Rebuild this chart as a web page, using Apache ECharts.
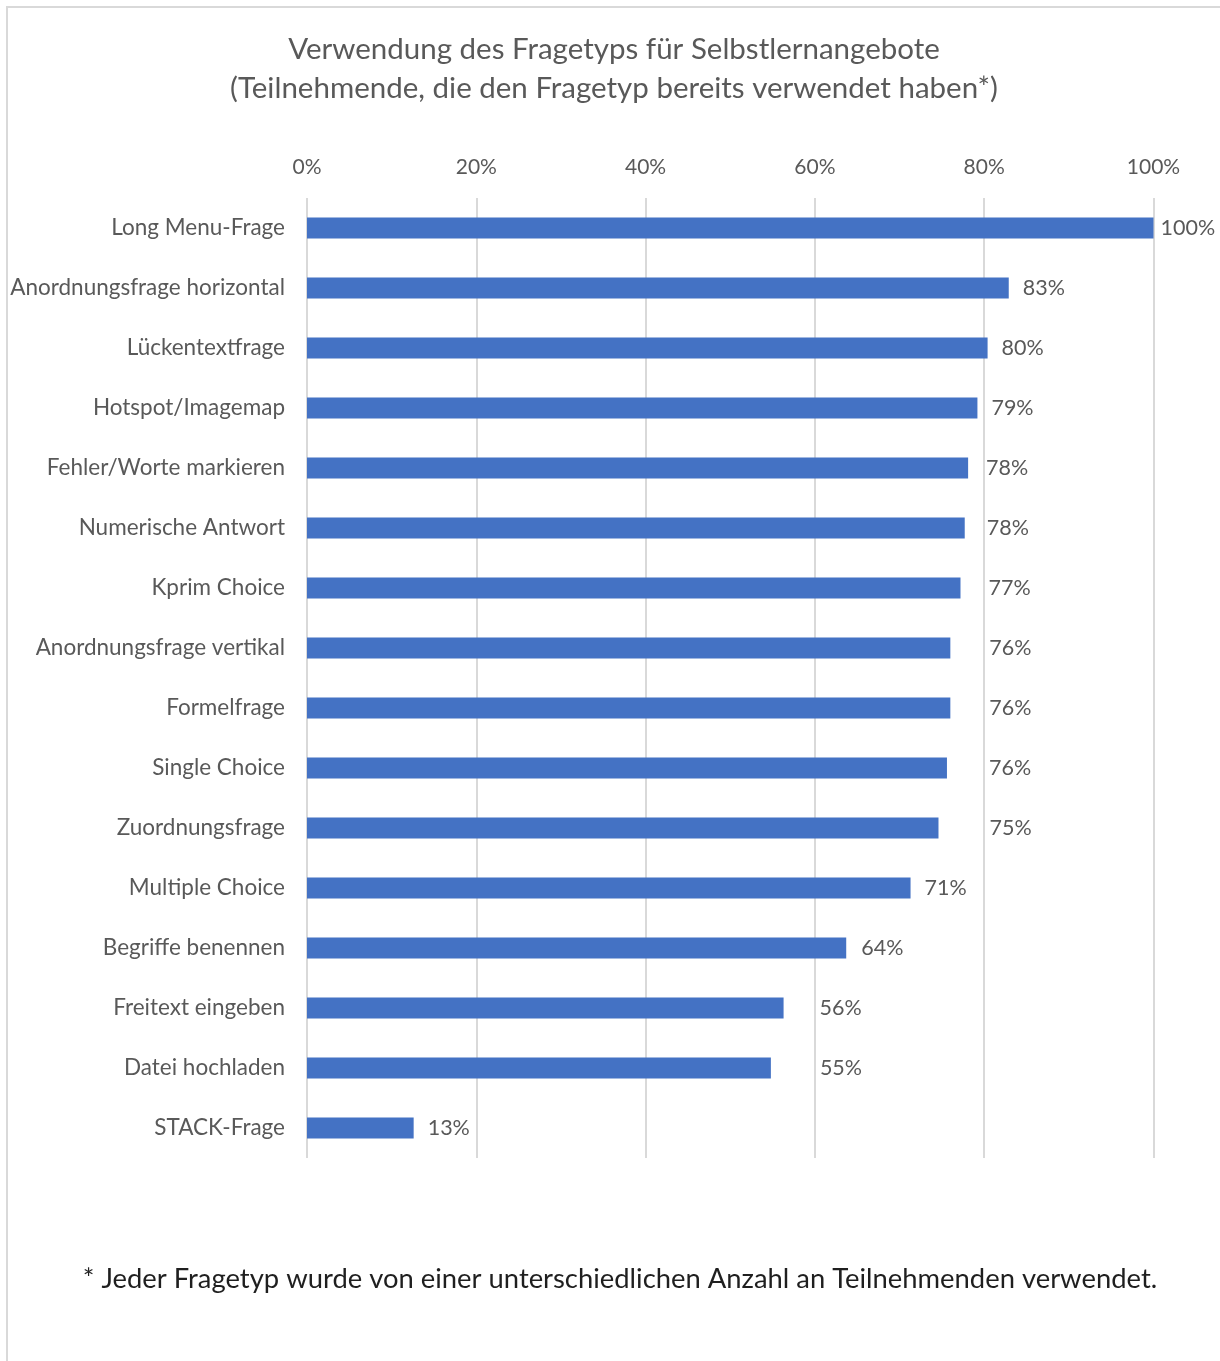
<!DOCTYPE html>
<html>
<head>
<meta charset="utf-8">
<script src="https://cdn.jsdelivr.net/npm/echarts@6/dist/echarts.min.js"></script>
<style>
  html, body { margin: 0; padding: 0; background: #ffffff; }
  #chart { width: 1220px; height: 1361px; }
</style>
</head>
<body>
<div id="chart"></div>
<script>
// Question types, top to bottom
const categories = [
  'Long Menu-Frage',
  'Anordnungsfrage horizontal',
  'Lückentextfrage',
  'Hotspot/Imagemap',
  'Fehler/Worte markieren',
  'Numerische Antwort',
  'Kprim Choice',
  'Anordnungsfrage vertikal',
  'Formelfrage',
  'Single Choice',
  'Zuordnungsfrage',
  'Multiple Choice',
  'Begriffe benennen',
  'Freitext eingeben',
  'Datei hochladen',
  'STACK-Frage'
];

// Share of participants who have used the question type (%)
const usageShare = [100, 82.9, 80.4, 79.2, 78.1, 77.7, 77.2, 76.0, 76.0, 75.6, 74.6, 71.3, 63.7, 56.3, 54.8, 12.6];

// Axis ticks (%)
const axisTicks = [0, 20, 40, 60, 80, 100];

const titleLines = [
  'Verwendung des Fragetyps für Selbstlernangebote',
  '(Teilnehmende, die den Fragetyp bereits verwendet haben*)'
];
const footnote = '* Jeder Fragetyp wurde von einer unterschiedlichen Anzahl an Teilnehmenden verwendet.';

// Gap between each bar end and its value label (px)
const labelGap = [7, 14, 14, 14, 18, 22, 28, 39, 39, 42, 51, 14, 15, 36, 49, 14];

const FONT = 'Lato, "Open Sans", sans-serif';
const GRAY = '#595959';

const chart = echarts.init(document.getElementById('chart'), null, { renderer: 'canvas' });

chart.setOption({
  backgroundColor: '#ffffff',
  animation: false,
  title: {
    text: titleLines.join('\n'),
    left: 614,
    top: 30,
    padding: 0,
    textAlign: 'center',
    textStyle: {
      fontFamily: FONT,
      fontSize: 29.5,
      fontWeight: 'normal',
      color: GRAY,
      lineHeight: 39
    }
  },
  graphic: [
    {
      type: 'rect',
      shape: { x: 7, y: 7, width: 1400, height: 1500 },
      style: { fill: 'none', stroke: '#d9d9d9', lineWidth: 2 },
      silent: true,
      z: -1
    },
    {
      type: 'text',
      x: 620,
      y: 1279,
      style: {
        text: footnote,
        font: '27.4px ' + FONT,
        fill: '#1f1f1f',
        align: 'center',
        verticalAlign: 'middle'
      }
    }
  ],
  grid: {
    left: 307,
    width: 846.5,
    top: 198,
    height: 960,
    containLabel: false
  },
  xAxis: {
    type: 'value',
    position: 'top',
    min: axisTicks[0],
    max: axisTicks[axisTicks.length - 1],
    interval: axisTicks[1] - axisTicks[0],
    axisLine: { show: false },
    axisTick: { show: false },
    axisLabel: {
      formatter: '{value}%',
      fontFamily: FONT,
      fontSize: 21,
      color: GRAY,
      margin: 20
    },
    splitLine: { show: true, lineStyle: { color: '#d9d9d9', width: 2 } }
  },
  yAxis: {
    type: 'category',
    data: categories,
    inverse: true,
    axisLine: { show: false },
    axisTick: { show: false },
    axisLabel: {
      fontFamily: FONT,
      fontSize: 22.5,
      color: GRAY,
      margin: 22,
      padding: [4, 0, 0, 0]
    }
  },
  series: [
    {
      type: 'bar',
      barWidth: 21,
      itemStyle: { color: '#4472c4' },
      data: usageShare.map((v, i) => ({
        value: v,
        label: { distance: labelGap[i] }
      })),
      label: {
        show: true,
        position: 'right',
        formatter: p => Math.round(p.value) + '%',
        fontFamily: FONT,
        fontSize: 21.5,
        color: GRAY,
        padding: [4, 0, 0, 0]
      }
    }
  ]
});
</script>
</body>
</html>
